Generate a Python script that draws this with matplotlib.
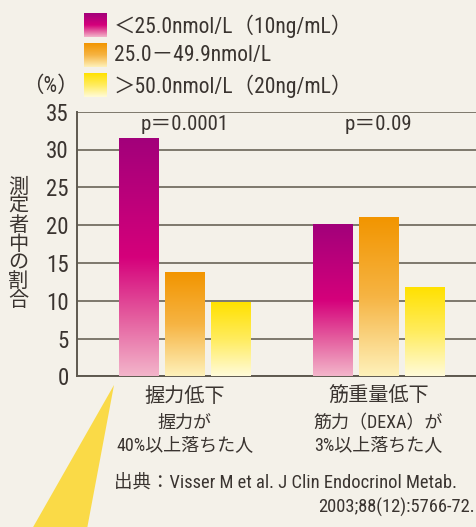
import numpy as np
import matplotlib
matplotlib.use("Agg")
import matplotlib.pyplot as plt
from matplotlib.colors import LinearSegmentedColormap
from matplotlib.patches import Polygon

# ---- data ----
categories = ["握力低下", "筋重量低下"]
sub_labels = ["握力が\n40%以上落ちた人", "筋力（DEXA）が\n3%以上落ちた人"]
series_names = ["＜25.0nmol/L（10ng/mL）", "25.0－49.9nmol/L", "＞50.0nmol/L（20ng/mL）"]
values_low = [31.4, 20.0]
values_mid = [13.7, 20.9]
values_high = [9.7, 11.7]
p_values = ["p＝0.0001", "p＝0.09"]
y_ticks = [0, 5, 10, 15, 20, 25, 30, 35]

# ---- fonts: condensed Latin, CJK fallback ----
FAM = ["Roboto Condensed", "Noto Sans CJK JP", "DejaVu Sans"]
CJK = ["Noto Sans CJK JP", "DejaVu Sans"]
plt.rcParams["font.family"] = FAM

BG = "#F4F1E9"
TXT = "#3A3430"
GRID = "#7D786C"

# vertical gradients, top -> bottom
grad_stops = [
    [(0.0, "#A2007A"), (0.5, "#D5007B"), (0.75, "#E45C9E"), (1.0, "#F3B5CA")],
    [(0.0, "#F29500"), (0.5, "#F6B443"), (1.0, "#FEF1BA")],
    [(0.0, "#FFE100"), (0.5, "#FFEC5E"), (1.0, "#FFFBD9")],
]
cmaps = [LinearSegmentedColormap.from_list(f"g{i}", s) for i, s in enumerate(grad_stops)]
ramp = np.linspace(0, 1, 256).reshape(-1, 1)

W, H = 476, 527
fig = plt.figure(figsize=(W / 100, H / 100), dpi=100, facecolor=BG)

# main axes, in pixel terms: left 77, y=0 at 376, y=35 at 112
ax = fig.add_axes([77 / W, (H - 376.3) / H, 1.02 - 77 / W, (376.3 - 111.7) / H])
ax.set_facecolor(BG)

x = np.arange(len(categories))
width = 0.206
step = 0.238
series = [values_low, values_mid, values_high]
for i, vals in enumerate(series):
    xs = x + (i - 1) * step
    bars = ax.bar(xs, vals, width, color="none", zorder=3)
    for b, v in zip(bars, vals):
        x0 = b.get_x()
        ax.imshow(ramp, cmap=cmaps[i], aspect="auto", origin="upper",
                  extent=[x0, x0 + width, 0, v], zorder=3, interpolation="bilinear")
ax.set_xlim(-0.558, 1.553)
ax.set_ylim(0, 35)

ax.set_yticks(y_ticks)
ax.set_yticklabels([str(t) for t in y_ticks])
ax.yaxis.grid(True, color=GRID, linewidth=1.4, zorder=0)
ax.set_axisbelow(True)
ax.tick_params(axis="y", length=0, pad=6, labelsize=16.5, labelcolor=TXT)
ax.tick_params(axis="x", length=0, labelbottom=False)
for s in ["top", "right"]:
    ax.spines[s].set_visible(False)
for s in ["left", "bottom"]:
    ax.spines[s].set_color("#5E594F")
    ax.spines[s].set_linewidth(1.4)

for xi, p in zip(x, p_values):
    ax.text(xi, 33.3, p, ha="center", va="center", fontsize=15, color=TXT, zorder=4)

# category labels beneath the axis
for xi, cat, sub in zip(x, categories, sub_labels):
    ax.annotate(cat, xy=(xi, 0), xycoords="data", xytext=(0, -14.5), textcoords="offset points",
                ha="center", va="center", fontsize=14.5, color=TXT, annotation_clip=False)
    ax.annotate(sub, xy=(xi, 0), xycoords="data", xytext=(0, -41.5), textcoords="offset points",
                ha="center", va="center", fontsize=13, color=TXT, linespacing=1.28,
                annotation_clip=False)

# background overlay in pixel coordinates: pointer wedge
ov = fig.add_axes([0, 0, 1, 1], zorder=-1)
ov.set_xlim(0, W)
ov.set_ylim(H, 0)
ov.axis("off")
ov.add_patch(Polygon([(114, 385), (32, H + 2), (87, H + 2)], closed=True,
                     facecolor="#FADA47", edgecolor="none"))

# foreground overlay: legend, axis titles, source
lax = fig.add_axes([0, 0, 1, 1])
lax.axis("off")
rows = [25, 55, 85]
for i, (yc, name) in enumerate(zip(rows, series_names)):
    lax.imshow(ramp, cmap=cmaps[i], aspect="auto", origin="upper",
               extent=[84, 107, yc + 12, yc - 12], interpolation="bilinear")
    lax.text(114, yc + 1, name, ha="left", va="center", fontsize=15.5, color=TXT)
lax.text(50, 86, "（%）", ha="center", va="center", fontsize=15.5, color=TXT)
lax.set_xlim(0, W)
lax.set_ylim(H, 0)

# vertical y-axis title, one character per line
ylab = "測定者中の割合"
lax.text(18, 244, "\n".join(ylab), ha="center", va="center", fontsize=14.5,
         color=TXT, family=CJK, linespacing=0.86, multialignment="center")

# source
lax.text(114, 483, "出典：Visser M et al. J Clin Endocrinol Metab.", ha="left", va="center",
         fontsize=13.3, color=TXT)
lax.text(475, 507, "2003;88(12):5766-72.", ha="right", va="center",
         fontsize=13.3, color=TXT)

fig.savefig("out.png", dpi=100, facecolor=BG)
